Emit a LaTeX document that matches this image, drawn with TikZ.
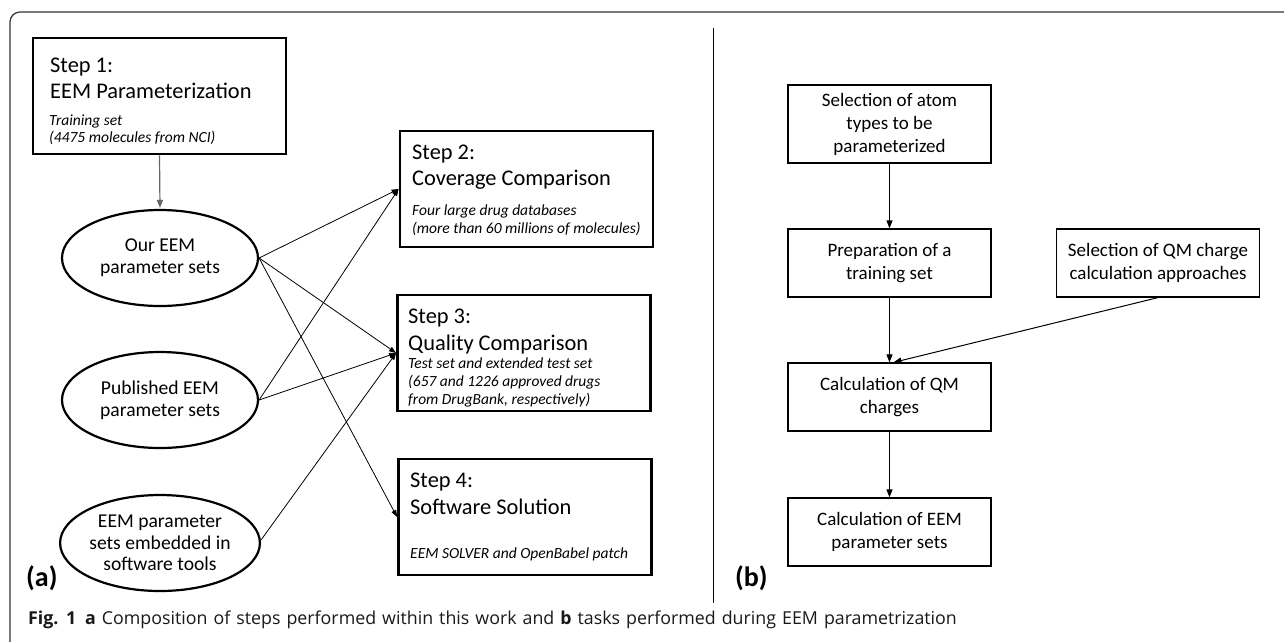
\documentclass[tikz,border=0pt]{standalone}
\usepackage{fontspec}
\setmainfont{Carlito}
\newfontfamily\capfont[WordSpace=1.3]{Open Sans}
\usetikzlibrary{arrows.meta,shapes.geometric,calc}
\begin{document}
\begin{tikzpicture}[x=1pt,y=-1pt,
  stepbox/.style={draw=black,line width=2.8pt,minimum width=253pt,minimum height=116pt,inner sep=0pt},
  ell/.style={ellipse,draw=black,line width=2.2pt,minimum width=196pt,minimum height=96pt,inner sep=0pt,align=center,font=\fontsize{19.6}{21.7}\selectfont},
  taskbox/.style={draw=black,line width=1.2pt,minimum width=203pt,inner sep=0pt,align=center,font=\fontsize{19}{23}\selectfont},
  head/.style={anchor=base west,inner sep=0pt,font=\fontsize{22.4}{26}\selectfont},
  sub/.style={anchor=base west,inner sep=0pt,font=\fontsize{15.5}{18}\selectfont\itshape},
  conn/.style={line width=0.8pt,-{Triangle[length=7pt,width=5pt]}},
  flow/.style={line width=1pt,-{Triangle[length=8pt,width=6pt]}},
  panel/.style={anchor=base west,inner sep=0pt,font=\fontsize{28}{32}\selectfont\bfseries}
]
\useasboundingbox (0,0) rectangle (1284,641);
\fill[white] (0,0) rectangle (1284,641);
% frame
\draw[line width=1.2pt,color=black!80,rounded corners=10pt] (1290,12) -- (10,12) -- (10,650);
% separator
\draw[line width=0.9pt] (713,28) -- (713,603);

% ---- panel (a)
\node[stepbox] (s1) at (159.5,96) {};
\node[head] (s1a) at (50,72) {Step 1:};
\node[head] (s1b) at (50,98) {EEM Parameterization};
\node[sub] (s1c) at (49,125) {Training set};
\node[sub] (s1d) at (49,142) {(4475 molecules from NCI)};

\node[stepbox] (s2) at (526.5,189) {};
\node[head] (s2a) at (412,159) {Step 2:};
\node[head] (s2b) at (412,185) {Coverage Comparison};
\node[sub] (s2c) at (412,215) {Four large drug databases};
\node[sub] (s2d) at (412,233) {(more than 60 millions of molecules)};

\node[stepbox] (s3) at (524,353) {};
\node[head] (s3a) at (408,323) {Step 3:};
\node[head] (s3b) at (408,350) {Quality Comparison};
\node[sub] (s3c) at (408,368) {Test set and extended test set};
\node[sub] (s3d) at (408,386.5) {(657 and 1226 approved drugs};
\node[sub] (s3e) at (408,404.5) {from DrugBank, respectively)};

\node[stepbox] (s4) at (525,517) {};
\node[head] (s4a) at (410,487) {Step 4:};
\node[head] (s4b) at (410,514) {Software Solution};
\node[sub] (s4c) at (410,558) {EEM SOLVER and OpenBabel patch};

\node[ell] (e1) at (160,258) {Our EEM\\parameter sets};
\node[ell] (e2) at (160,400) {Published EEM\\parameter sets};
\node[ell] (e3) at (160,543) {EEM parameter\\sets embedded in\\software tools};

\draw[line width=1.2pt,color=black!60,-{Triangle[length=8pt,width=6pt]},shorten >=1pt] (s1.south) -- (e1.north);

\draw[conn] (e1.east) -- (s2.west);
\draw[conn] (e1.east) -- (s3.west);
\draw[conn] (e1.east) -- (s4.west);
\draw[conn] (e2.east) -- (s2.west);
\draw[conn] (e2.east) -- (s3.west);
\draw[conn] ($(e3.east)+(0,-3)$) -- (s3.west);

\node[panel] (la) at (26,586) {(a)};

% ---- panel (b)
\node[taskbox,minimum height=78pt] (b1) at (889.5,124) {Selection of atom\\types to be\\parameterized};
\node[taskbox,minimum height=68pt] (b2) at (889.5,263) {Preparation of a\\training set};
\node[taskbox,minimum height=68pt] (b3) at (1158,263) {Selection of QM charge\\calculation approaches};
\node[taskbox,minimum height=68pt] (b4) at (889.5,397) {Calculation of QM\\charges};
\node[taskbox,minimum height=68pt] (b5) at (889.5,532) {Calculation of EEM\\parameter sets};

\draw[flow] (b1.south) -- (b2.north);
\draw[flow] (b2.south) -- (b4.north);
\draw[flow] (b3.south) -- ($(b4.north)+(4,0)$);
\draw[flow] (b4.south) -- (b5.north);

\node[panel] (lb) at (735,586) {(b)};

% caption
\node[anchor=base west,inner sep=0pt,font=\capfont\fontsize{17.8}{21}\selectfont,color=black!90] (cap) at (28,624)
  {\textbf{Fig. 1}\hspace{0.5em}\textbf{a} Composition of steps performed within this work and \textbf{b} tasks performed during EEM parametrization};
\end{tikzpicture}
\end{document}
